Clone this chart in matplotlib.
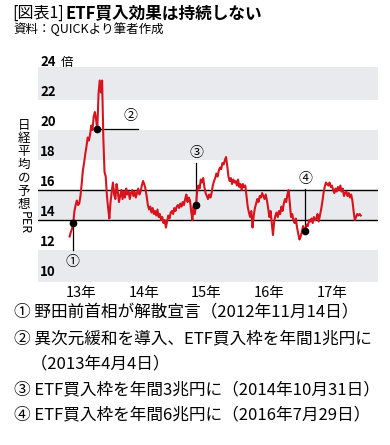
import pandas as pd
import matplotlib
matplotlib.use("Agg")
import matplotlib.pyplot as plt

plt.rcParams['font.family'] = ['Noto Sans CJK JP', 'DejaVu Sans']

# 日経平均の予想PER（週次、図から読み取り）
per = [
    12.9, 13.2, 13.4, 13.8, 14.6, 15.0, 15.3, 15.0, 15.1, 15.6,
    16.4, 17.3, 17.8, 18.4, 18.9, 19.5, 19.3, 19.7, 20.3, 20.0,
    20.9, 21.2, 20.7, 20.0, 22.4, 23.3, 22.5, 23.3, 19.5, 17.2,
    16.9, 15.6, 14.8, 14.1, 15.2, 15.9, 16.5, 15.7, 15.4, 16.4,
    15.9, 15.2, 15.6, 16.0, 15.4, 15.9, 15.5, 16.1, 15.7, 15.9,
    15.4, 15.8, 16.0, 15.6, 15.9, 15.5, 15.8, 16.1, 15.7, 15.9,
    16.3, 16.6, 16.4, 16.1, 15.6, 15.0, 14.7, 14.9, 14.5, 14.8,
    14.4, 14.6, 14.3, 14.7, 14.2, 14.4, 14.0, 14.2, 13.8, 14.0,
    13.5, 13.9, 14.3, 14.1, 14.5, 14.6, 14.4, 14.8, 14.6, 14.9,
    15.0, 14.8, 15.1, 14.9, 15.2, 15.0, 15.4, 15.7, 15.2, 15.5,
    15.3, 14.6, 14.0, 14.9, 14.4, 15.0, 15.9, 16.3, 16.1, 16.7,
    16.5, 16.8, 16.2, 15.8, 15.6, 15.4, 15.7, 15.5, 15.8, 16.3,
    16.6, 16.8, 17.1, 16.9, 17.3, 17.5, 17.4, 17.8, 17.7, 18.0,
    18.2, 17.6, 16.9, 16.6, 16.8, 16.4, 16.7, 16.5, 16.6, 16.3,
    16.7, 16.2, 16.4, 16.0, 16.4, 16.2, 16.3, 15.6, 14.9, 14.5,
    14.2, 14.6, 13.5, 14.3, 14.8, 15.1, 15.4, 15.2, 15.6, 15.5,
    15.8, 15.6, 15.4, 15.7, 15.3, 14.8, 14.2, 14.6, 13.8, 13.0,
    13.9, 14.3, 14.5, 14.2, 14.6, 14.4, 14.9, 14.6, 15.1, 15.4,
    15.2, 15.7, 16.0, 15.1, 14.2, 14.4, 14.0, 13.8, 14.1, 13.5,
    13.1, 12.7, 12.9, 13.2, 13.6, 13.4, 13.3, 13.7, 13.6, 14.0,
    13.9, 14.1, 13.8, 14.2, 14.0, 14.1, 14.4, 13.9, 14.3, 14.7,
    15.2, 15.8, 16.2, 16.5, 16.4, 16.3, 16.5, 16.2, 16.3, 16.0,
    15.8, 16.1, 15.9, 16.2, 16.0, 16.3, 15.9, 16.1, 15.6, 15.8,
    15.9, 15.6, 15.8, 15.5, 15.7, 15.3, 14.6, 14.0, 14.2, 14.4,
    14.3, 14.4, 14.3,
]
dates = pd.date_range("2012-10-26", periods=len(per), freq="7D")

event_labels = ["①", "②", "③", "④"]
event_dates = pd.to_datetime(["2012-11-14", "2013-04-04", "2014-10-31", "2016-07-29"])
event_values = [13.8, 20.1, 15.0, 13.3]

year_ticks = pd.to_datetime(["2013-01-01", "2014-01-01", "2015-01-01", "2016-01-01", "2017-01-01"])
year_labels = ["13年", "14年", "15年", "16年", "17年"]
y_ticks = [10, 12, 14, 16, 18, 20, 22, 24]

notes = [
    "① 野田前首相が解散宣言（2012年11月14日）",
    "② 異次元緩和を導入、ETF買入枠を年間1兆円に",
    "　（2013年4月4日）",
    "③ ETF買入枠を年間3兆円に（2014年10月31日）",
    "④ ETF買入枠を年間6兆円に（2016年7月29日）",
]

fig = plt.figure(figsize=(3.9, 4.45), dpi=100)
ax = fig.add_axes([38 / 390, 1 - 282 / 445, 340 / 390, 215 / 445])

ax.set_ylim(9.87, 24.2)
ax.set_xlim(pd.Timestamp("2012-04-25"), pd.Timestamp("2017-09-24"))

# 縞模様の背景
ax.set_facecolor("#e8eaed")
for lo in [12, 16, 20]:
    ax.axhspan(lo, lo + 2, color="white", lw=0, zorder=0)
for spine in ax.spines.values():
    spine.set_visible(False)

ax.axhline(14, color="black", lw=1, zorder=1)
ax.axhline(16, color="black", lw=1, zorder=1)

ax.plot(dates, per, color="#d7141e", lw=1.5, zorder=3)

# イベントの注記
d1, d2, d3, d4 = event_dates
v1, v2, v3, v4 = event_values
ax.plot([d1, d1], [v1, 12.0], color="black", lw=0.9, zorder=2)
ax.plot([d2, pd.Timestamp("2013-11-25")], [v2, v2], color="black", lw=0.9, zorder=2)
ax.plot([d3, d3], [v3, 17.8], color="black", lw=0.9, zorder=2)
ax.plot([d4, d4], [v4, 16.05], color="black", lw=0.9, zorder=2)
ax.plot(event_dates, event_values, "o", color="black", ms=4.5, zorder=4)

label_pos = [(d1, 11.2), (pd.Timestamp("2013-10-12"), 20.95), (d3, 18.5), (d4, 16.75)]
for lab, (x, y) in zip(event_labels, label_pos):
    ax.text(x, y, lab, ha="center", va="center", fontsize=10, zorder=5)

# 目盛り
ax.set_yticks([])
for v in y_ticks:
    ax.text(0.006, v + 0.1, str(v), transform=ax.get_yaxis_transform(),
            ha="left", va="bottom", fontsize=9.5, fontweight="bold")
ax.text(0.068, 24.1, "倍", transform=ax.get_yaxis_transform(),
        ha="left", va="bottom", fontsize=9)

ax.set_xticks(year_ticks)
ax.set_xticklabels(year_labels, fontsize=10.5)
ax.tick_params(axis="x", length=0, pad=3)

# 縦書きの軸ラベル（一文字ずつ）
for i, ch in enumerate("日経平均の予想"):
    fig.text(24 / 390, 1 - (125 + 13.3 * i) / 445, ch, ha="center", va="center",
             fontsize=9)
fig.text(24 / 390, 1 - 223 / 445, "PER", ha="center", va="center",
         fontsize=9, rotation=270)

# タイトル
t1 = fig.text(12 / 390, 1 - 13 / 445, "[図表1]", ha="left", va="center", fontsize=11.5)
ax.annotate("ETF買入効果は持続しない", xy=(1, 0.5), xycoords=t1, xytext=(1.5, 0),
            textcoords="offset points", ha="left", va="center",
            fontsize=12, fontweight="bold", annotation_clip=False)
fig.text(13 / 390, 1 - 29 / 445, "資料：QUICKより筆者作成", ha="left", va="center",
         fontsize=9)

for i, line in enumerate(notes):
    fig.text(14 / 390, 1 - (313 + 25.5 * i) / 445, line, ha="left", va="center",
             fontsize=12)

fig.savefig("out.png", dpi=100)
